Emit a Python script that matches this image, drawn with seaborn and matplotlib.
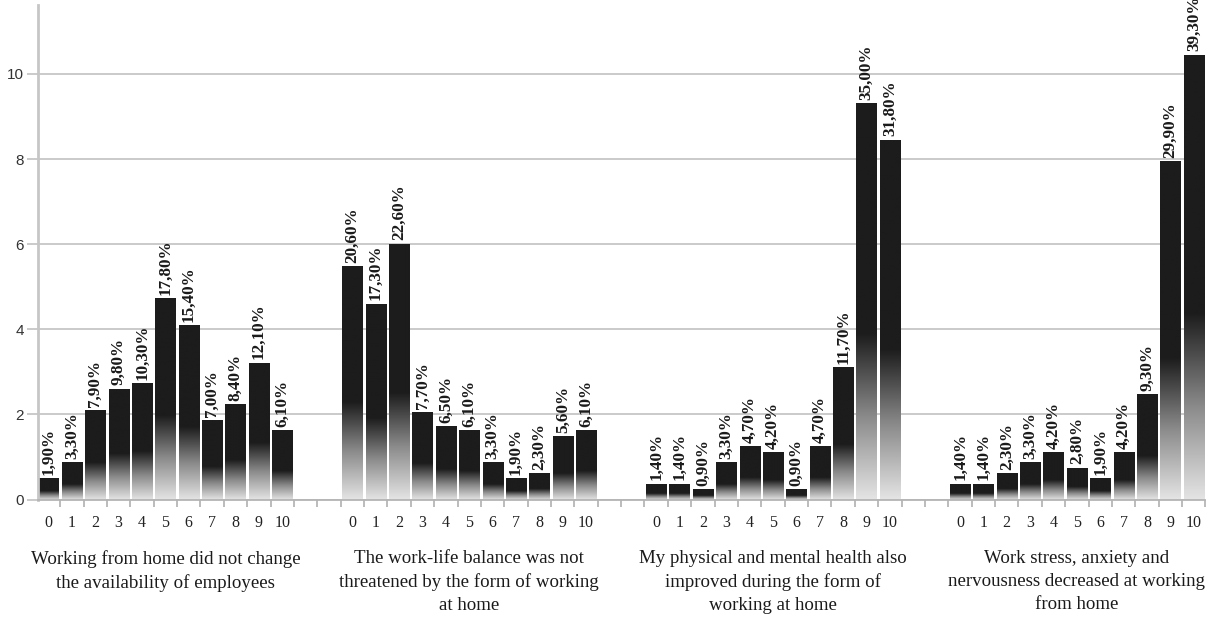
import numpy as np
import pandas as pd
import matplotlib
matplotlib.use("Agg")
import matplotlib.pyplot as plt
import matplotlib.transforms as mtransforms
from matplotlib.colors import LinearSegmentedColormap
import seaborn as sns

# Survey statements (one group of bars each) and the 0-10 agreement scale
statements = [
    "Working from home did not change\nthe availability of employees",
    "The work-life balance was not\nthreatened by the form of working\nat home",
    "My physical and mental health also\nimproved during the form of\nworking at home",
    "Work stress, anxiety and\nnervousness decreased at working\nfrom home",
]
scores = list(range(11))

# Share of respondents (%) choosing each score
availability = [1.9, 3.3, 7.9, 9.8, 10.3, 17.8, 15.4, 7.0, 8.4, 12.1, 6.1]
work_life = [20.6, 17.3, 22.6, 7.7, 6.5, 6.1, 3.3, 1.9, 2.3, 5.6, 6.1]
health = [1.4, 1.4, 0.9, 3.3, 4.7, 4.2, 0.9, 4.7, 11.7, 35.0, 31.8]
stress = [1.4, 1.4, 2.3, 3.3, 4.2, 2.8, 1.9, 4.2, 9.3, 29.9, 39.3]
series = [availability, work_life, health, stress]

y_ticks = [0, 2, 4, 6, 8, 10]
PCT_PER_UNIT = 3.76      # percent represented by one unit of the value axis
SLOTS_PER_GROUP = 13     # 11 scores + 2 empty slots between groups

rows = []
for g, (stmt, vals) in enumerate(zip(statements, series)):
    for s, v in zip(scores, vals):
        rows.append({"group": g, "score": s, "pos": g * SLOTS_PER_GROUP + s,
                     "pct": v, "value": v / PCT_PER_UNIT})
df = pd.DataFrame(rows)

sns.set_theme(style="white")
serif = ["Liberation Serif", "DejaVu Serif"]
sans = ["Liberation Sans", "DejaVu Sans"]

fig = plt.figure(figsize=(12.06, 6.19), dpi=100)
ax = fig.add_axes([0.0315, 0.193, 0.968, 0.799])

sns.barplot(data=df, x="pos", y="value", native_scale=True, width=0.86,
            color="#1c1c1c", edgecolor="none", linewidth=0, ax=ax,
            errorbar=None)

xlim = (-0.45, (len(statements) - 1) * SLOTS_PER_GROUP + 10.5)
ylim = (0, 11.62)

# Vertical black-to-light gradient inside each bar
cmap = LinearSegmentedColormap.from_list("fade", ["#e4e4e4", "#8a8a8a", "#1c1c1c"])
for patch in list(ax.patches):
    x0, w, h = patch.get_x(), patch.get_width(), patch.get_height()
    if h <= 0:
        continue
    t = np.linspace(0, 1, 256)
    shade = np.clip(t / 0.42, 0, 1).reshape(-1, 1)
    patch.set_facecolor("none")
    im = ax.imshow(shade, extent=[x0, x0 + w, 0, h], origin="lower",
                   aspect="auto", cmap=cmap, vmin=0, vmax=1,
                   interpolation="bilinear", zorder=patch.get_zorder())
    im.set_clip_path(patch)

# Percentage labels above the bars
for _, r in df.iterrows():
    label = f"{r['pct']:.2f}".replace(".", ",") + "%"
    ax.text(r["pos"], r["value"] + 0.08, label, rotation=90, ha="center",
            va="bottom", fontsize=12.3, fontweight="bold", family=serif,
            color="#1a1a1a")

ax.set_xlim(*xlim)
ax.set_ylim(*ylim)

# Axes styling
ax.set_yticks(y_ticks)
ax.set_yticklabels([str(v) for v in y_ticks], family=sans, fontsize=11,
                   color="#333333")
ax.yaxis.grid(True, color="#c6c6c6", linewidth=1.3)
ax.xaxis.grid(False)
ax.set_axisbelow(True)
ax.tick_params(axis="y", length=8, width=1.3, color="#c6c6c6", pad=2, left=True)

ax.set_xticks(df["pos"].tolist())
ax.set_xticklabels([str(s) for s in df["score"]], family=serif, fontsize=11.5,
                   color="#222222")
ax.set_xticks(np.arange(0.5, xlim[1] + 0.01, 1.0), minor=True)
ax.tick_params(axis="x", which="major", length=0, pad=11)
ax.tick_params(axis="x", which="minor", length=5, width=1.2, color="#b0b0b0",
               bottom=True)
ax.set_xlabel("")
ax.set_ylabel("")

for side in ("top", "right"):
    ax.spines[side].set_visible(False)
ax.spines["left"].set_color("#c6c6c6")
ax.spines["left"].set_linewidth(2)
ax.spines["bottom"].set_color("#b4b4b4")
ax.spines["bottom"].set_linewidth(1.3)

# Statement captions under each group
trans = mtransforms.blended_transform_factory(ax.transData, ax.transAxes)
for g, stmt in enumerate(statements):
    ax.text(g * SLOTS_PER_GROUP + 5, -0.102, stmt, transform=trans,
            ha="center", va="top", fontsize=13.6, family=serif,
            color="#1a1a1a", linespacing=1.45)

fig.savefig("out.png", dpi=100)
